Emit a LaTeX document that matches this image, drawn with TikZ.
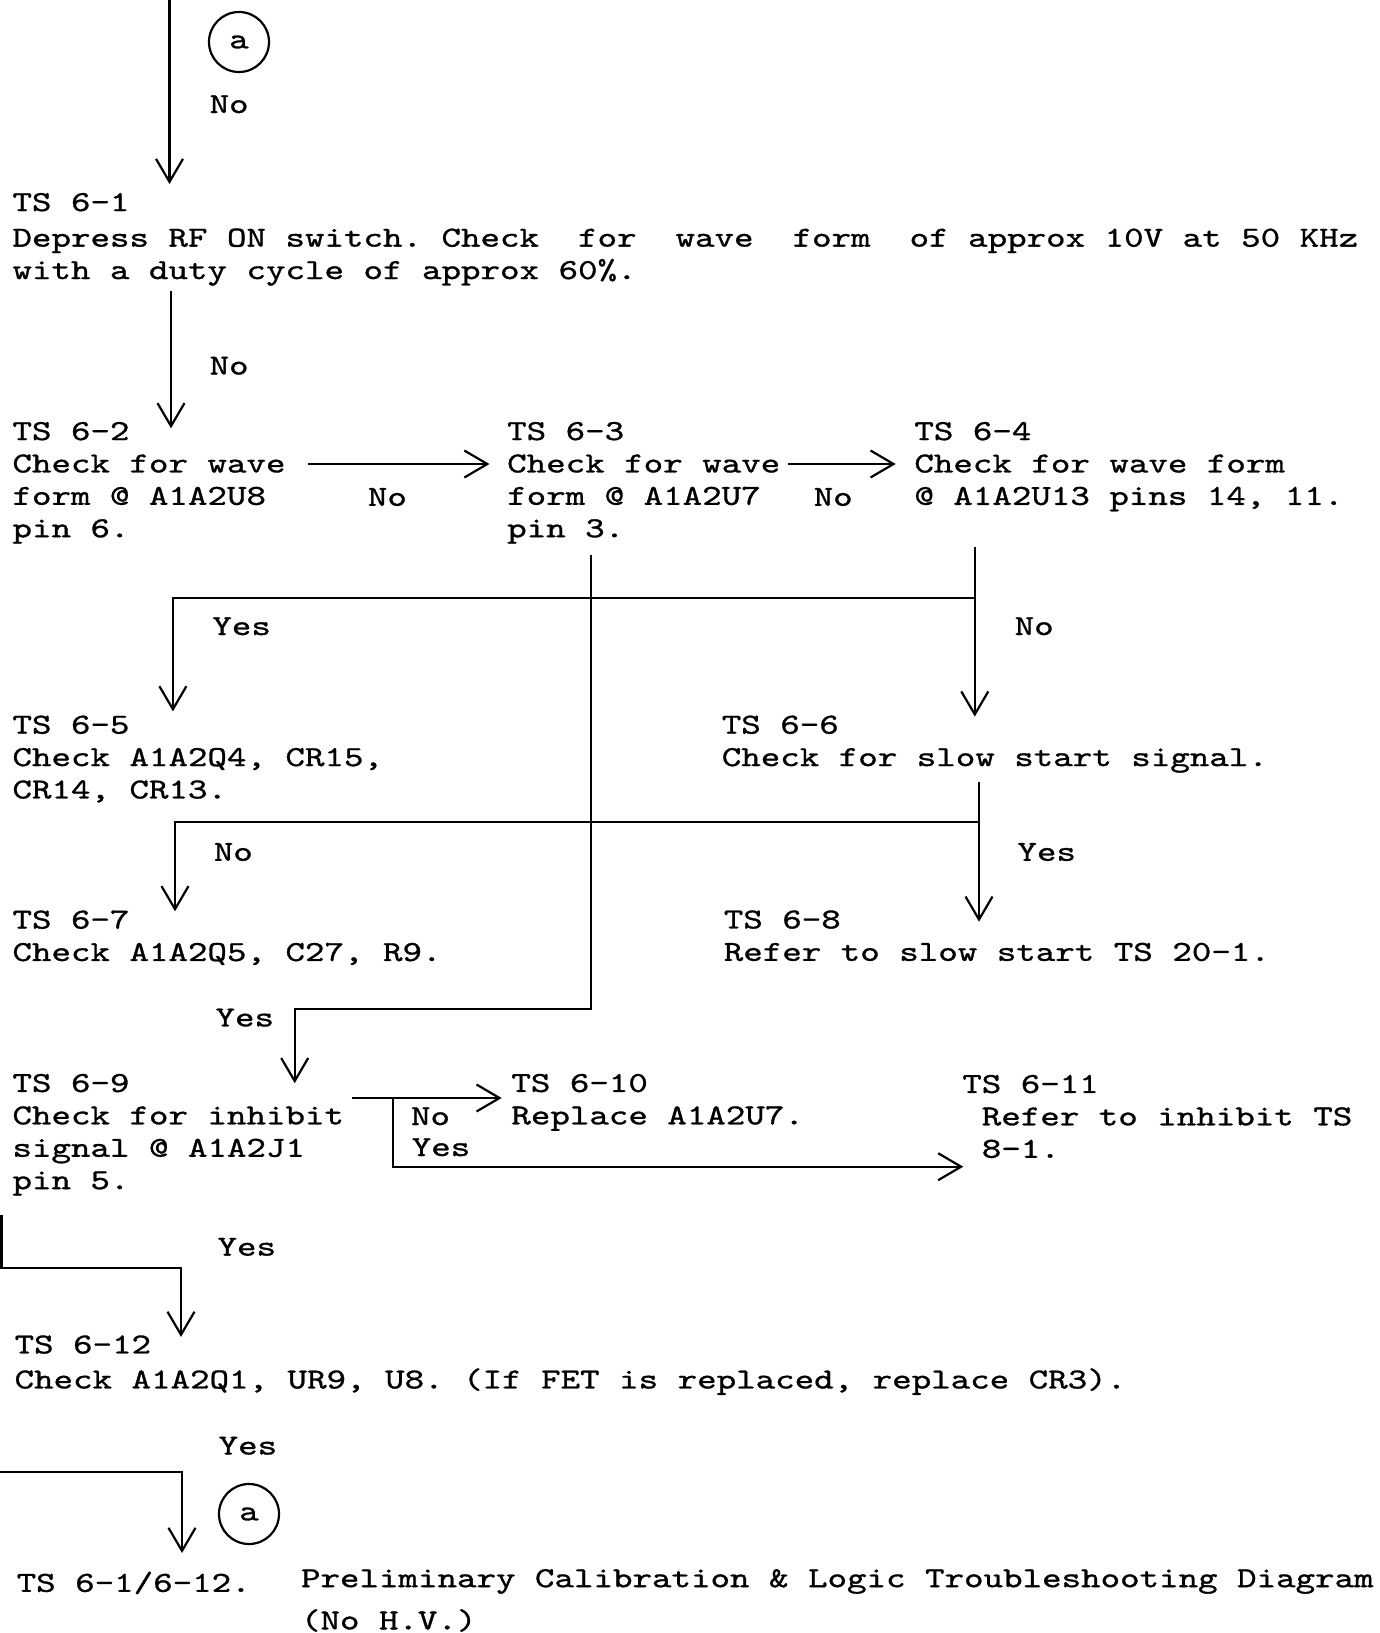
\documentclass[tikz,border=0pt]{standalone}
\usepackage{fontspec}
\newfontfamily\twfam{lmmono10-regular.otf}[FakeStretch=1.281,FakeBold=1]
\newcommand\twr{\twfam\fontsize{14.5}{16.2}\selectfont\frenchspacing}
\usetikzlibrary{arrows.meta}
\begin{document}
\begin{tikzpicture}[x=0.5pt,y=-0.5pt,
  txt/.style={anchor=north west, inner sep=0pt, outer sep=0pt, align=left, font=\twr,
    execute at begin node=\strut, execute at end node=\strut},
  lbl/.style={anchor=base, inner sep=0pt, font=\twr},
  conn/.style={line width=1.1pt},
  arr/.style={conn, -{Straight Barb[length=11.5pt,width=13.5pt]}},
  conncirc/.style={circle, draw, line width=1.1pt, minimum size=30pt, inner sep=0pt, font=\twr}]
\fill[white] (0,0) rectangle (1380,1633);
\useasboundingbox (0,0) rectangle (1380,1633);

% text boxes
\node[txt] (t1) at (12.5,193) {TS 6-1\\[1.6pt]Depress RF ON switch. Check\ \ for\ \ wave\ \ form\ \ of approx 10V at 50 KHz\\with a duty cycle of approx 60\%.};
\node[txt] (t2) at (12.5,422) {TS 6-2\\Check for wave\\form @ A1A2U8\\pin 6.};
\node[txt] (t3) at (507.2,422) {TS 6-3\\Check for wave\\form @ A1A2U7\\pin 3.};
\node[txt] (t4) at (914.4,422) {TS 6-4\\Check for wave form\\@ A1A2U13 pins 14, 11.};
\node[txt] (t5) at (12.5,715.6) {TS 6-5\\Check A1A2Q4, CR15,\\CR14, CR13.};
\node[txt] (t6) at (721.8,715.6) {TS 6-6\\Check for slow start signal.};
\node[txt] (t7) at (12.5,910.4) {TS 6-7\\Check A1A2Q5, C27, R9.};
\node[txt] (t8) at (723.8,910.4) {TS 6-8\\Refer to slow start TS 20-1.};
\node[txt] (t9) at (12.5,1073.9) {TS 6-9\\Check for inhibit\\signal @ A1A2J1\\pin 5.};
\node[txt] (t10) at (511.4,1073.9) {TS 6-10\\Replace A1A2U7.};
\node[txt] (t11) at (962.3,1074.9) {TS 6-11\\\phantom{R}Refer to inhibit TS\\\phantom{8}8-1.};
\node[txt] (t12) at (14.6,1335.4) {TS 6-12\\[1.3pt]Check A1A2Q1, UR9, U8. (If FET is replaced, replace CR3).};
\node[txt] (capL) at (16.7,1569.1) {TS 6-1/6-12.};
\node[txt] (capT) at (301,1569.1) {Preliminary Calibration \& Logic Troubleshooting Diagram\\[4.9pt](No H.V.)};

% off-page connectors
\node[conncirc] (a1) at (239,42) {a};
\node[conncirc] (a2) at (249,1514) {a};

% labels
\node[lbl] (l0) at (229.1,113) {No};
\node[lbl] (l1) at (229.1,374.5) {No};
\node[lbl] (l2) at (387.4,505.8) {No};
\node[lbl] (l3) at (833.2,505.8) {No};
\node[lbl] (l4) at (241.6,635) {Yes};
\node[lbl] (l5) at (1034.2,635) {No};
\node[lbl] (l6) at (233.3,860.8) {No};
\node[lbl] (l7) at (1046.7,860.8) {Yes};
\node[lbl] (l8) at (244.8,1026.4) {Yes};
\node[lbl] (l9) at (430.5,1125) {No};
\node[lbl] (l10) at (441,1156) {Yes};
\node[lbl] (l11) at (246.8,1255.6) {Yes};
\node[lbl] (l12) at (247.9,1454.5) {Yes};

% helper coordinates
\coordinate (top0) at (169.5,-2);
\coordinate (x1) at (171,0);
\coordinate (r2) at (0,464);
\coordinate (x4) at (974.8,0);
\coordinate (J1) at (974.8,597.8);
\coordinate (x5) at (172.9,0);
\coordinate (x3) at (591,0);
\coordinate (K1) at (591,1009.2);
\coordinate (x9) at (294.7,0);
\coordinate (x6) at (979,0);
\coordinate (J2) at (979,821.7);
\coordinate (x7) at (175,0);
\coordinate (r9) at (0,1098);
\coordinate (J3) at (393.3,1098);
\coordinate (r11) at (0,1166.7);
\coordinate (e8) at (1.5,1215);
\coordinate (k8) at (181,1268);
\coordinate (e9) at (0,1471.7);
\coordinate (k9) at (182,1471.7);

% connectors
\draw[arr, shorten >=4.5pt] (top0) -- (top0 |- t1.north);
\draw[arr, shorten <=1.2pt, shorten >=-3.15pt] (x1 |- t1.south) -- (x1 |- t2.north);
\draw[arr, shorten <=11.4pt, shorten >=8.85pt] (t2.east |- r2) -- (t3.west |- r2);
\draw[arr, shorten <=4.1pt, shorten >=9.35pt] (t3.east |- r2) -- (t4.west |- r2);
\draw[arr, shorten <=16.4pt, shorten >=-0.5pt] (x4 |- t4.south) -- (x4 |- t6.north);
\draw[arr, shorten >=2.1pt] (J1) -| (x5 |- t5.north);
\draw[arr, shorten <=3.85pt, shorten >=-4.65pt] (x3 |- t3.south) -- (K1) -| (x9 |- t9.north);
\draw[arr, shorten <=2.95pt, shorten >=-5.65pt] (x6 |- t6.south) -- (x6 |- t8.north);
\draw[arr, shorten >=-0.45pt] (J2) -| (x7 |- t7.north);
\draw[arr, shorten <=3.85pt, shorten >=4.85pt] (t9.east |- r9) -- (t10.west |- r9);
\draw[arr, shorten >=-0.5pt] (J3) |- (t11.west |- r11);
\draw[arr, shorten >=-0.75pt] (e8) |- (k8) -- (k8 |- t12.north);
\draw[arr, shorten >=8.05pt] (e9) -- (k9) -- (k9 |- capL.north);
\end{tikzpicture}
\end{document}
